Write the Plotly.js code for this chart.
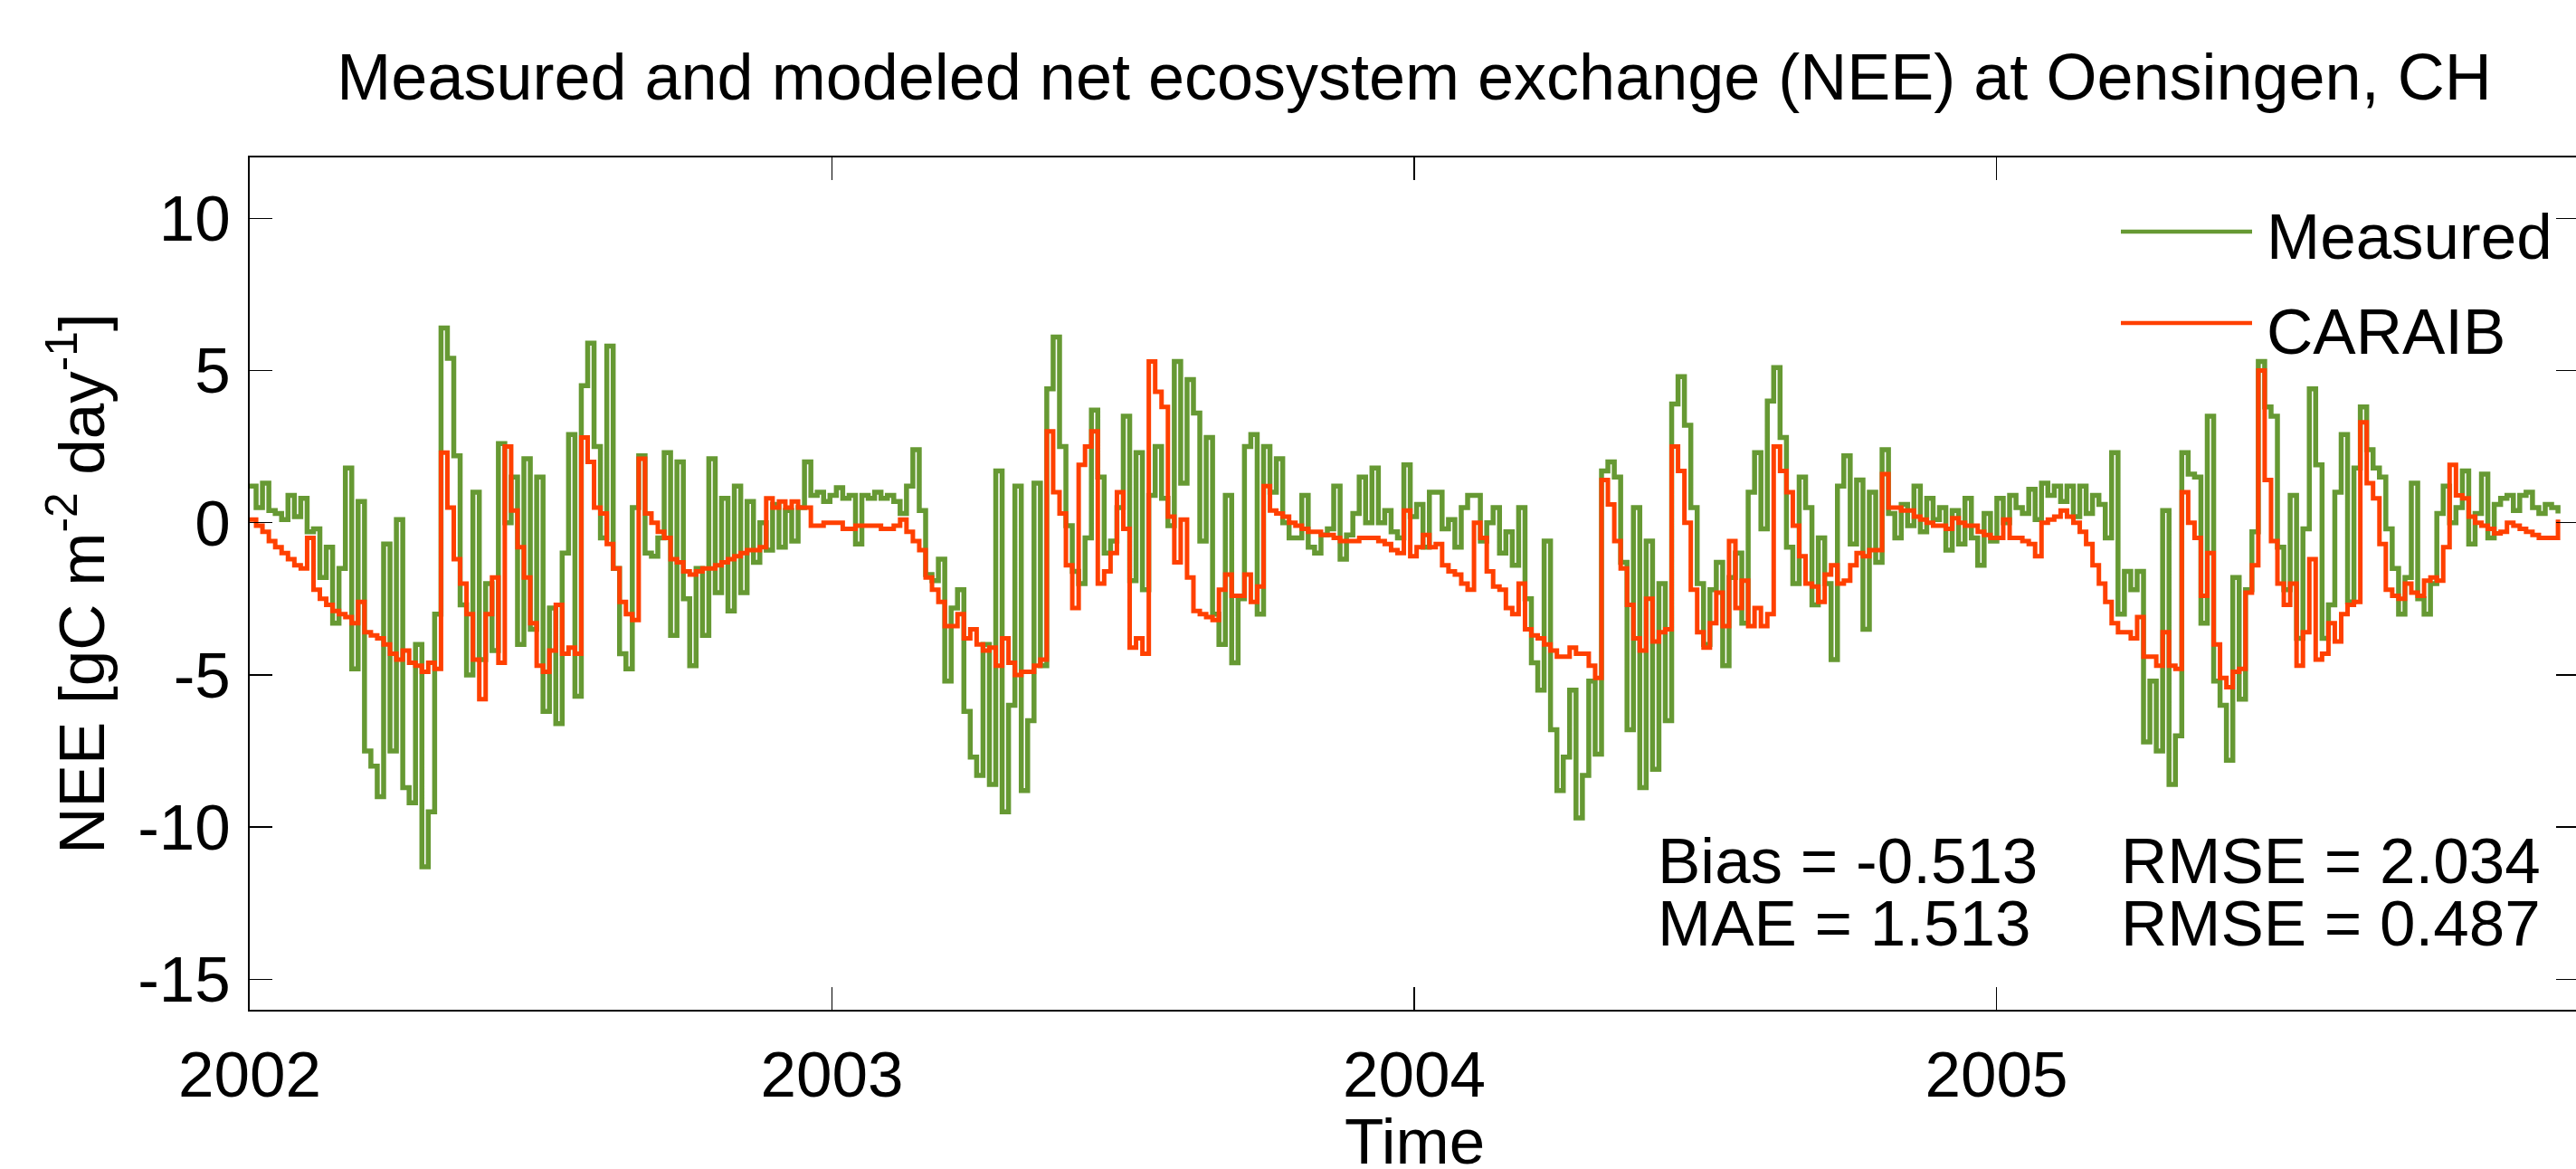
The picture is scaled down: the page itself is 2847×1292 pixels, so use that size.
<!DOCTYPE html>
<html>
<head>
<meta charset="utf-8">
<script src="https://cdn.plot.ly/plotly-3.0.1.min.js"></script>
<style>
  html, body { margin: 0; padding: 0; background: #fff; overflow: hidden; }
  #chart { width: 2855px; height: 1292px; }
</style>
</head>
<body>
<div id="chart"></div>
<script>
// ---- Data (one value every 4 days from 1 Jan 2002) ----
const startYear = 2002;
const stepDays = 4;

const measured = [
  // 2002 (Jan - Aug)
  1.2,0.5,1.3,0.4,0.3,0.1,0.9,0.2,0.8,-0.3,-0.2,-1.8,-0.8,-3.3,-1.5,1.8,-4.8,0.7,-7.5,-8.0,
  -9.0,-0.7,-7.5,0.1,-8.7,-9.2,-4.0,-11.3,-9.5,-3.0,6.4,5.4,2.2,-2.7,-5.0,1.0,-4.5,-2.0,-4.2,2.6,
  0.0,1.5,-4.0,2.1,-3.5,1.5,-6.2,-2.8,-6.6,-1.0,2.9,-5.7,4.5,5.9,2.5,-0.5,5.8,-1.5,-4.3,-4.8,0.5,
  // 2002 Sep - 2003 May
  2.2,-1.0,-1.1,-0.5,2.3,-3.7,2.0,-2.5,-4.7,-1.5,-3.7,2.1,-2.3,0.8,-2.9,1.2,-2.3,0.7,-1.3,0.0,
  -0.9,0.6,-0.8,0.4,-0.6,0.5,2.0,0.9,1.0,0.7,0.9,1.15,0.8,0.9,-0.7,0.9,0.8,1.0,0.8,0.9,
  0.7,0.3,1.2,2.4,0.4,-1.7,-1.9,-1.2,-5.2,-2.8,-2.2,-6.2,-7.7,-8.3,-4.0,-8.6,1.7,-9.5,-6.0,1.2,-8.8,
  // 2003 May - 2003 Dec
  -6.5,1.3,-4.7,4.4,6.1,2.5,-0.1,-1.6,-2.0,-0.5,3.7,1.5,-1.0,-0.6,0.5,3.5,-1.9,2.3,-2.2,0.9,
  2.5,0.8,-0.1,5.3,1.3,4.7,3.6,-0.6,2.8,-3.0,-4.0,0.9,-4.6,-2.5,2.5,2.9,-3.0,2.5,1.0,2.1,
  0.0,-0.5,-0.5,0.9,-0.8,-1.0,-0.4,-0.2,1.2,-1.2,-0.4,0.3,1.5,0.0,1.8,0.0,0.4,-0.3,-0.5,1.9,0.2,
  // 2004 Jan - Aug
  0.6,-0.8,1.0,1.0,-0.2,0.1,-0.8,0.5,0.9,0.9,-0.6,0.0,0.5,-1.0,-0.3,-1.4,0.5,-2.5,-4.6,-5.5,
  -0.6,-6.8,-8.8,-7.7,-5.5,-9.7,-8.3,-5.2,-7.6,1.7,2.0,1.5,-1.3,-6.8,0.5,-8.7,-0.6,-8.1,-2.0,-6.5,
  3.9,4.8,3.2,0.5,-2.0,-4.0,-2.2,-1.3,-4.7,-1.8,-1.0,-3.3,1.0,2.3,-0.2,4.0,5.1,2.8,-0.8,-2.0,1.5,
  // 2004 Sep - 2005 May
  0.5,-2.7,-0.5,-2.0,-4.5,1.2,2.2,-0.7,1.4,-3.5,1.0,-1.3,2.4,0.3,-0.5,0.6,-0.1,1.2,-0.3,0.8,
  0.1,0.5,-0.9,0.4,-0.7,0.8,-0.5,-1.4,0.3,-0.6,0.8,0.0,0.9,0.5,0.3,1.1,0.1,1.3,0.9,1.2,
  0.7,1.2,0.2,1.2,0.3,0.9,0.6,-0.5,2.3,-3.0,-1.6,-2.2,-1.6,-7.2,-5.2,-7.5,0.4,-8.6,-7.0,2.3,1.6,
  // 2005 May - Dec
  1.5,-3.3,3.5,-5.2,-6.0,-7.8,-1.8,-5.8,-2.2,-0.3,5.3,3.8,3.5,-0.8,-2.2,0.9,-3.8,-0.2,4.4,1.9,
  -3.8,-2.7,1.0,2.9,-2.6,1.8,3.8,2.4,1.8,1.5,-0.2,-1.5,-3.0,-1.8,1.3,-2.5,-3.0,-2.0,0.3,1.2,
  0.0,0.5,1.7,-0.7,0.3,1.6,-0.5,0.6,0.8,0.9,0.4,0.9,1.0,0.5,0.3,0.6,0.5,0.3
];

const caraib = [
  // 2002 (Jan - Aug)
  0.1,-0.1,-0.3,-0.6,-0.8,-1.0,-1.2,-1.4,-1.5,-0.5,-2.2,-2.5,-2.7,-2.9,-3.0,-3.1,-3.3,-2.6,-3.6,-3.7,
  -3.8,-4.0,-4.3,-4.5,-4.2,-4.6,-4.7,-4.9,-4.6,-4.8,2.3,0.5,-1.2,-2.0,-3.0,-4.5,-5.8,-3.0,-1.8,-4.6,
  2.5,0.4,-0.8,-1.8,-3.3,-4.7,-4.9,-4.2,-2.7,-4.3,-4.1,-4.3,2.8,2.0,0.5,0.3,-0.7,-1.5,-2.6,-3.0,-3.2,
  // 2002 Sep - 2003 May
  2.1,0.3,0.0,-0.3,-0.5,-1.2,-1.3,-1.6,-1.7,-1.6,-1.5,-1.5,-1.4,-1.3,-1.2,-1.1,-1.0,-0.9,-0.9,-0.8,
  0.8,0.5,0.7,0.5,0.7,0.5,0.5,-0.1,-0.1,0.0,0.0,0.0,-0.2,-0.2,-0.1,-0.1,-0.1,-0.1,-0.2,-0.2,
  -0.1,0.1,-0.3,-0.6,-0.9,-1.8,-2.2,-2.6,-3.4,-3.4,-3.0,-3.8,-3.5,-4.0,-4.2,-4.1,-4.7,-3.8,-4.6,-5.0,-4.9,
  // 2003 May - 2003 Dec
  -4.9,-4.7,-4.5,3.0,1.0,0.3,-1.4,-2.8,1.9,2.5,3.0,-2.0,-1.6,-1.0,1.0,-0.2,-4.1,-3.8,-4.3,5.3,
  4.3,3.8,0.2,-1.3,0.1,-1.8,-2.9,-3.0,-3.1,-3.2,-2.2,-1.7,-2.4,-2.4,-1.7,-2.6,-2.1,1.2,0.4,0.3,
  0.2,0.0,-0.1,-0.2,-0.3,-0.3,-0.4,-0.4,-0.5,-0.6,-0.6,-0.6,-0.5,-0.5,-0.5,-0.6,-0.7,-0.9,-1.0,0.4,-1.1,
  // 2004 Jan - Aug
  -0.8,-0.4,-0.8,-0.7,-1.4,-1.6,-1.7,-2.0,-2.2,0.0,-0.5,-1.6,-2.1,-2.2,-2.8,-3.0,-2.0,-3.5,-3.7,-3.8,
  -4.0,-4.2,-4.4,-4.4,-4.1,-4.3,-4.3,-4.7,-5.1,1.4,0.6,-0.6,-1.5,-2.7,-3.8,-4.2,-2.5,-3.9,-3.6,-3.5,
  2.5,1.7,0.0,-2.2,-3.6,-4.1,-3.3,-2.3,-3.4,-0.6,-2.8,-1.9,-3.4,-2.8,-3.4,-3.0,2.5,1.7,1.0,-0.1,-1.1,
  // 2004 Sep - 2005 May
  -2.0,-2.1,-2.6,-1.7,-1.4,-2.0,-1.9,-1.4,-1.0,-1.1,-0.9,-0.9,1.6,0.5,0.5,0.4,0.4,0.2,0.1,0.0,
  -0.1,-0.1,-0.2,0.15,0.0,-0.1,-0.1,-0.3,-0.4,-0.5,-0.5,0.1,-0.5,-0.5,-0.6,-0.7,-1.1,0.0,0.1,0.2,
  0.4,0.2,0.0,-0.3,-0.7,-1.4,-2.0,-2.6,-3.3,-3.6,-3.6,-3.8,-3.1,-4.4,-4.4,-4.7,-3.6,-4.7,-4.8,1.0,0.0,
  // 2005 May - Dec
  -0.5,-2.4,-1.0,-4.0,-5.1,-5.4,-4.9,-4.8,-2.3,-1.4,5.0,1.4,-0.6,-2.0,-2.7,-2.0,-4.7,-3.6,-1.2,-4.5,
  -4.3,-3.3,-3.9,-3.0,-2.7,-2.6,3.3,1.3,0.8,-0.7,-2.2,-2.4,-2.5,-2.0,-2.3,-2.4,-1.9,-1.8,-1.9,-0.8,
  1.9,0.9,0.8,0.2,0.0,-0.1,-0.2,-0.35,-0.3,0.0,-0.1,-0.2,-0.3,-0.4,-0.5,-0.5,-0.5,0.1
];

const yearTicks = [2002, 2003, 2004, 2005];
const yTicks = [-15, -10, -5, 0, 5, 10];
const seriesNames = ['Measured', 'CARAIB'];
const seriesColors = ['#669933', '#ff4000'];
const statLines = [
  ['Bias = -0.513', 'RMSE = 2.034'],
  ['MAE = 1.513', 'RMSE = 0.487']
];

// time axis in decimal years
const time = measured.map((_, i) => startYear + (i * stepDays) / 365.25);

// ---- Geometry helpers (pixel layout of the figure) ----
const W = 2855, H = 1292;
const M = { l: 276, r: 5, t: 174, b: 176 };
const pw = W - M.l - M.r, ph = H - M.t - M.b;
const px = x => (x - M.l) / pw;      // page px -> paper x
const py = y => (H - M.b - y) / ph;  // page px -> paper y

const FONT = 'Liberation Sans, Arial, Helvetica, sans-serif';

const traces = [
  { x: time, y: measured, type: 'scatter', mode: 'lines', name: seriesNames[0],
    line: { color: seriesColors[0], width: 5.5, shape: 'hv' } },
  { x: time, y: caraib, type: 'scatter', mode: 'lines', name: seriesNames[1],
    line: { color: seriesColors[1], width: 5, shape: 'hv' } }
];

const axisCommon = {
  showgrid: false, zeroline: false,
  showline: true, linecolor: '#000', linewidth: 2, mirror: 'ticks',
  ticks: 'inside', ticklen: 25, tickwidth: 1.5, tickcolor: '#000',
  tickfont: { family: FONT, size: 71, color: '#000' }
};

const legendRows = [
  { y: 256, ty: 261 },
  { y: 357, ty: 367 }
];

const shapes = legendRows.map((r, i) => ({
  type: 'line', xref: 'paper', yref: 'paper',
  x0: px(2344), x1: px(2489), y0: py(r.y), y1: py(r.y),
  line: { color: seriesColors[i], width: 4.5 }
}));

const annotations = [];
legendRows.forEach((r, i) => annotations.push({
  xref: 'paper', yref: 'paper', x: px(2503), y: py(r.ty),
  xanchor: 'left', yanchor: 'middle', showarrow: false,
  text: seriesNames[i], font: { family: FONT, size: 71, color: '#000' }
}));
const statRowsY = [951, 1020];
const statColsX = [1831, 2343];
statLines.forEach((row, r) => row.forEach((t, c) => annotations.push({
  xref: 'paper', yref: 'paper', x: px(statColsX[c]), y: py(statRowsY[r]),
  xanchor: 'left', yanchor: 'middle', showarrow: false, borderpad: 0,
  text: t, font: { family: FONT, size: 71, color: '#000' }
})));
// x-axis title, placed where the reference puts it (near the figure's lower edge)
annotations.push({
  xref: 'paper', yref: 'paper', x: 0.5, y: py(1261),
  xanchor: 'center', yanchor: 'middle', showarrow: false, borderpad: 0,
  text: 'Time', font: { family: FONT, size: 71, color: '#000' }
});

const layout = {
  width: W, height: H,
  margin: { l: M.l, r: M.r, t: M.t, b: M.b, pad: 0 },
  paper_bgcolor: '#fff', plot_bgcolor: '#fff',
  showlegend: false,
  font: { family: FONT, color: '#000' },
  title: {
    text: 'Measured and modeled net ecosystem exchange (NEE) at Oensingen, CH',
    font: { family: FONT, size: 72, color: '#000' },
    x: 0.5, xref: 'paper', xanchor: 'center',
    y: 1 - 85 / H, yref: 'container', yanchor: 'middle'
  },
  xaxis: Object.assign({}, axisCommon, {
    range: [2002, 2006],
    tickvals: yearTicks, ticktext: yearTicks.map(String),
    ticklabelstandoff: 9
  }),
  yaxis: Object.assign({}, axisCommon, {
    range: [-16, 12],
    tickvals: yTicks, ticktext: yTicks.map(String),
    ticklabelstandoff: 5,
    title: { text: 'NEE [gC m<sup>-2</sup> day<sup>-1</sup>]', font: { family: FONT, size: 71, color: '#000' }, standoff: 13 }
  }),
  shapes: shapes,
  annotations: annotations
};

Plotly.newPlot('chart', traces, layout, { displayModeBar: false, staticPlot: true });
</script>
</body>
</html>
